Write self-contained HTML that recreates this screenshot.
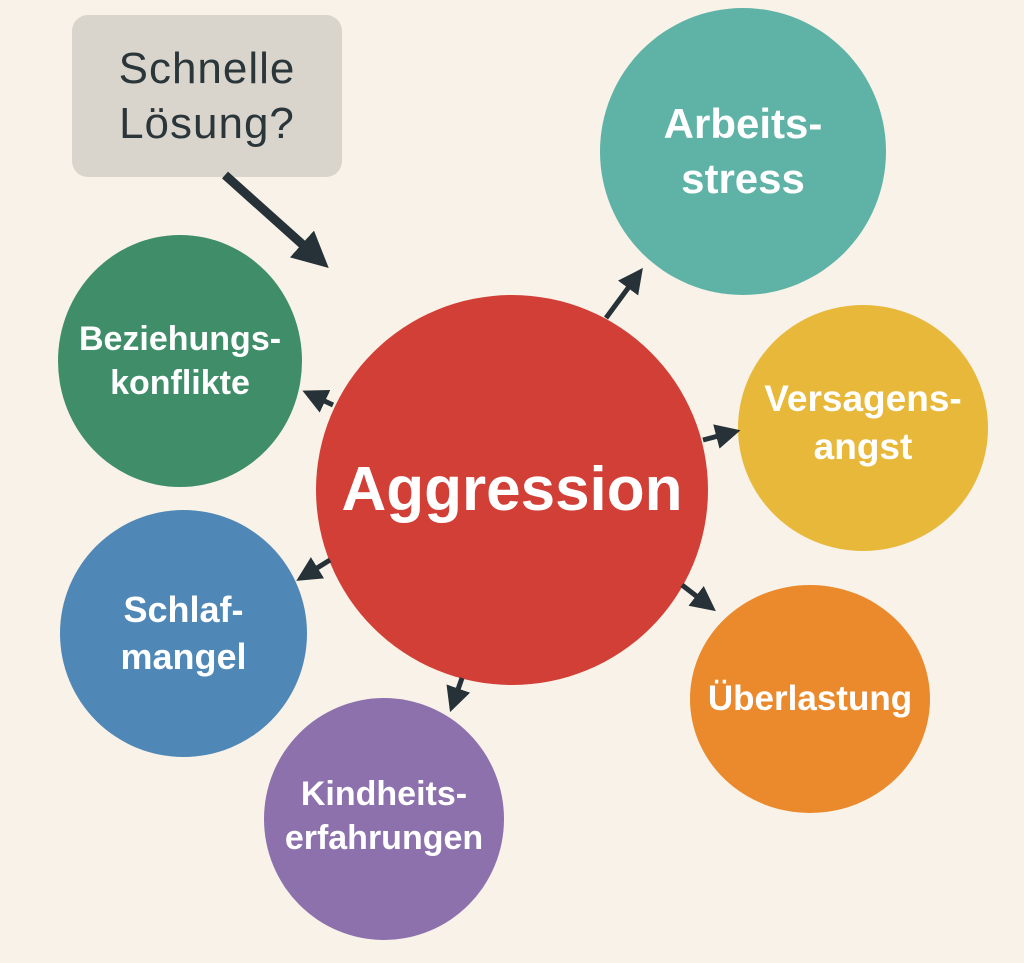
<!DOCTYPE html>
<html><head><meta charset="utf-8"><style>
html,body{margin:0;padding:0;}
body{width:1024px;height:963px;background:#f8f2e8;position:relative;overflow:hidden;font-family:"Liberation Sans","DejaVu Sans",sans-serif;}
.c{position:absolute;border-radius:50%;display:flex;align-items:center;justify-content:center;text-align:center;color:#fff;font-weight:bold;line-height:1.3;}
.box{position:absolute;left:72px;top:15px;width:270px;height:162px;background:#d9d5cc;border-radius:16px;color:#2b363a;font-size:44px;line-height:1.25;display:flex;align-items:center;justify-content:center;text-align:center;font-weight:normal;letter-spacing:1px;}
svg{position:absolute;left:0;top:0;}
</style></head><body>
<div class="box">Schnelle<br>Lösung?</div>
<div class="c" style="left:600px;top:8px;width:286px;height:287px;background:#5fb3a6;font-size:42px;">Arbeits-<br>stress</div>
<div class="c" style="left:738px;top:305px;width:250px;height:246px;background:#e8b83a;font-size:37px;"><div style="margin-top:-10px">Versagens-<br>angst</div></div>
<div class="c" style="left:690px;top:585px;width:240px;height:228px;background:#eb8a2c;font-size:35px;">Überlastung</div>
<div class="c" style="left:264px;top:698px;width:240px;height:242px;background:#8c71ad;font-size:34px;"><div style="margin-top:-6px">Kindheits-<br>erfahrungen</div></div>
<div class="c" style="left:60px;top:510px;width:247px;height:247px;background:#4f87b6;font-size:36px;">Schlaf-<br>mangel</div>
<div class="c" style="left:58px;top:235px;width:244px;height:252px;background:#3f8e69;font-size:34px;">Beziehungs-<br>konflikte</div>
<div class="c" style="left:316px;top:295px;width:392px;height:390px;background:#d13f36;font-size:62px;">Aggression</div>
<svg width="1024" height="963">
<defs><marker id="a" markerWidth="5" markerHeight="5" refX="2" refY="2.5" orient="auto"><path d="M0,0 L5,2.5 L0,5 z" fill="#263238"/></marker>
<marker id="b" markerWidth="4" markerHeight="4" refX="1.5" refY="2" orient="auto"><path d="M0,0 L4,2 L0,4 z" fill="#263238"/></marker></defs>
<g stroke="#263238" fill="none">
<line x1="225" y1="175" x2="312" y2="253" marker-end="url(#b)" stroke-width="9"/>
</g>
<g stroke="#263238" stroke-width="5" fill="none" marker-end="url(#a)">
<line x1="606" y1="318" x2="634" y2="280"/>
<line x1="703" y1="440" x2="726" y2="434"/>
<line x1="682" y1="585" x2="704" y2="602"/>
<line x1="462" y1="678" x2="455" y2="698"/>
<line x1="330" y1="560" x2="309" y2="573"/>
<line x1="333" y1="405" x2="316" y2="397"/>
</g>
</svg>
</body></html>
